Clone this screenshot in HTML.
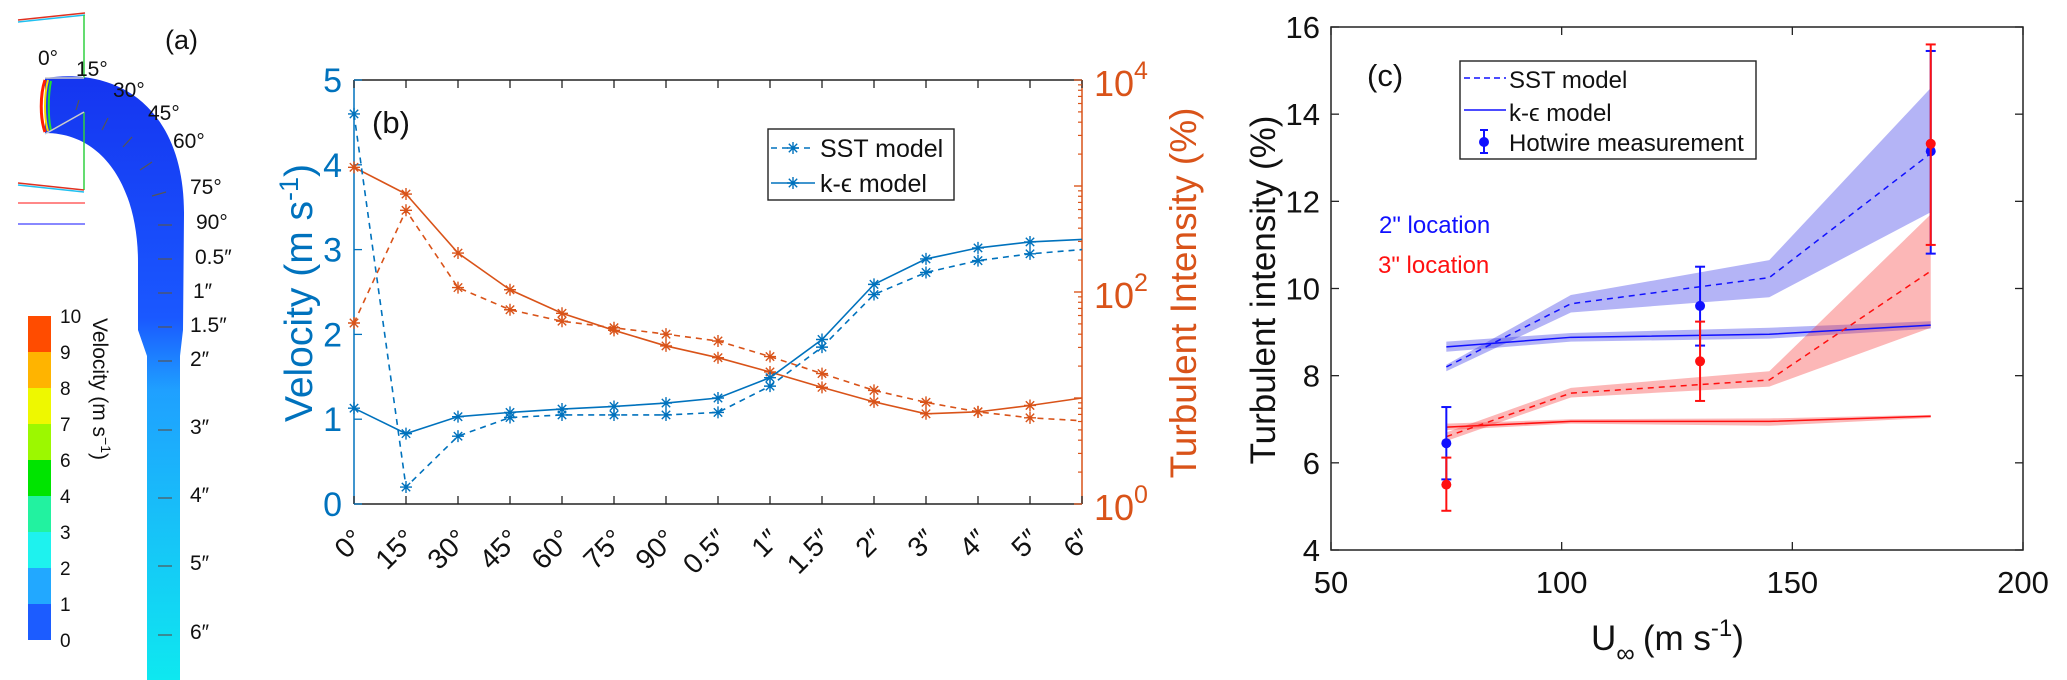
<!DOCTYPE html>
<html><head><meta charset="utf-8"><style>
html,body{margin:0;padding:0;background:#fff;}
svg{display:block;font-family:"Liberation Sans",Arial,sans-serif;}
</style></head><body>
<svg id="fig" width="2067" height="680" viewBox="0 0 2067 680" xmlns="http://www.w3.org/2000/svg">
<defs>
<linearGradient id="pipeGrad" x1="0" y1="0" x2="0" y2="1">
<stop offset="0" stop-color="#1535f0"/><stop offset="0.4" stop-color="#1a58ff"/>
<stop offset="0.52" stop-color="#1fa0ff"/><stop offset="1" stop-color="#0ee8f0"/>
</linearGradient>
</defs>
<g id="panelA">
<path d="M45,78 C125,66 185,115 184,215 L183,330 L180,356 L180,680 L147,680 L147,356 L138,330 L138,262 C138,190 105,133 45,133 Z" fill="url(#pipeGrad)"/>
<path d="M45,80 C40,95 40,118 45,132" stroke="#ff2000" stroke-width="3" fill="none"/>
<path d="M48,80 C44,95 44,118 48,131" stroke="#f0e000" stroke-width="2" fill="none"/>
<path d="M51,81 C48,95 48,118 51,130" stroke="#20e030" stroke-width="2" fill="none"/>
<g stroke-width="1.5" fill="none">
<path d="M18,20 L85,13" stroke="#e03020"/><path d="M18,22 L85,15" stroke="#20c0f0"/>
<path d="M84,15 L84,78" stroke="#30d040"/><path d="M84,112 L84,190" stroke="#30d040"/>
<path d="M45,78 L84,78" stroke="#ccc"/><path d="M45,134 L84,112" stroke="#ccc"/>
<path d="M18,183 L84,190" stroke="#e03020"/><path d="M18,185 L84,192" stroke="#20c0f0"/>
<path d="M18,203 L85,203" stroke="#ff6060"/><path d="M18,224 L85,224" stroke="#6060ff"/>
</g>
<g stroke="#555" stroke-width="1.2">
<line x1="76" y1="110" x2="79" y2="100"/><line x1="102" y1="130" x2="108" y2="118"/><line x1="123" y1="147" x2="132" y2="137"/>
<line x1="140" y1="170" x2="152" y2="162"/><line x1="152" y1="196" x2="166" y2="192"/><line x1="158" y1="225" x2="172" y2="225"/>
<line x1="158" y1="259" x2="172" y2="259"/><line x1="158" y1="293" x2="172" y2="293"/><line x1="158" y1="327" x2="172" y2="327"/>
<line x1="158" y1="361" x2="172" y2="361"/><line x1="158" y1="430" x2="172" y2="430"/><line x1="158" y1="498" x2="172" y2="498"/>
<line x1="158" y1="566" x2="172" y2="566"/><line x1="158" y1="635" x2="172" y2="635"/>
</g>
<g font-size="21" fill="#111">
<text x="38" y="65">0°</text><text x="76" y="76">15°</text><text x="113" y="97">30°</text><text x="148" y="120">45°</text>
<text x="173" y="148">60°</text><text x="190" y="194">75°</text><text x="196" y="229">90°</text><text x="195" y="264">0.5″</text>
<text x="193" y="298">1″</text><text x="190" y="332">1.5″</text><text x="190" y="366">2″</text><text x="190" y="434">3″</text>
<text x="190" y="502">4″</text><text x="190" y="570">5″</text><text x="190" y="639">6″</text>
</g>
<text x="165" y="49" font-size="27" fill="#111">(a)</text>
<g id="cbar"></g>
<text transform="translate(93,318) rotate(90)" font-size="21" fill="#111">Velocity (m s<tspan dy="-8" font-size="14">−1</tspan><tspan dy="8">)</tspan></text>
</g>
<g id="panelB"></g>
<g id="panelC"></g>
</svg>
<script>
// Panel (a) colorbar
const cbarLabels = ['0','1','2','3','4','6','7','8','9','10'];
const cbarColors = ['#1c5cff','#22a8ff','#1ef2ee','#22f2a0','#00e400','#9cf800','#eef800','#ffb400','#ff4c00'];
// Panel (b)
const catsB = ['0°','15°','30°','45°','60°','75°','90°','0.5″','1″','1.5″','2″','3″','4″','5″','6″'];
const velK = [1.13,0.83,1.03,1.08,1.12,1.15,1.19,1.25,1.49,1.94,2.59,2.89,3.02,3.09,3.12];
const velS = [4.6,0.2,0.8,1.02,1.05,1.05,1.05,1.08,1.39,1.85,2.47,2.73,2.87,2.95,3.0];
const tiK = [1500,840,233,105,63,43.5,31,24,17.6,12.6,9.2,7.1,7.4,8.5,10];
const tiS = [51,590,110,68,53,46,40,34.5,24.6,17,11.8,9.1,7.4,6.5,6.1];
const velTicks = [0,1,2,3,4,5];
const tiTickExp = [0,2,4];
// Panel (c)
const uModel = [75,102,145,180];
const sst2 = [8.2,9.65,10.25,13.1], sst2Lo = [8.1,9.45,9.8,11.75], sst2Hi = [8.25,9.85,10.65,14.6];
const ke2 = [8.66,8.88,8.95,9.16], ke2Lo = [8.55,8.78,8.85,9.08], ke2Hi = [8.78,8.98,9.1,9.25];
const sst3 = [6.6,7.6,7.9,10.4], sst3Lo = [6.5,7.5,7.75,9.1], sst3Hi = [6.7,7.72,8.1,11.7];
const ke3 = [6.82,6.95,6.95,7.07], ke3Lo = [6.75,6.9,6.85,7.03], ke3Hi = [6.9,7.0,7.02,7.1];
const uMeas = [75,130,180];
const meas2 = [6.45,9.6,13.15], meas2Lo = [5.62,8.69,10.8], meas2Hi = [7.28,10.5,15.45];
const meas3 = [5.5,8.33,13.32], meas3Lo = [4.9,7.42,11.0], meas3Hi = [6.12,9.24,15.6];
const cYTicks = [4,6,8,10,12,14,16];
const cXTicks = [50,100,150,200];

const NS = 'http://www.w3.org/2000/svg';
function mk(parent, tag, attrs, text){
  const e = document.createElementNS(NS, tag);
  for (const k in attrs) e.setAttribute(k, attrs[k]);
  if (text !== undefined) e.textContent = text;
  parent.appendChild(e); return e;
}

// ---- colorbar
const cb = document.getElementById('cbar');
const cbTop = 316, cbBot = 640, cbH = (cbBot - cbTop) / cbarColors.length;
cbarColors.forEach((c, i) => {
  const r = mk(cb, 'rect', {x:28, y:cbBot-(i+1)*cbH, width:23, height:cbH, fill:c});
  
  
});
cbarLabels.forEach((l, i) => {
  const t = mk(cb, 'text', {x:60, y:cbBot - i*cbH + 7, 'font-size':19, fill:'#111'}, l);
  
  
});

// ---- panel b
const B = document.getElementById('panelB');
const bL = 354, bR = 1082, bT = 80, bBt = 504;
const bStep = (bR - bL) / (catsB.length - 1);
const xb = i => bL + i * bStep;
const yv = v => bBt - v * (bBt - bT) / 5;
const yl = t => bBt - Math.log10(t) * (bBt - bT) / 4;
const BLUE = '#0072BD', ORANGE = '#D95319';
let e;
e = mk(B, 'line', {x1:bL, y1:bT, x2:bR, y2:bT, stroke:'#222', 'stroke-width':1.5});


e = mk(B, 'line', {x1:bL, y1:bBt, x2:bR, y2:bBt, stroke:'#222', 'stroke-width':1.5});


e = mk(B, 'line', {x1:bL, y1:bT, x2:bL, y2:bBt, stroke:BLUE, 'stroke-width':1.5});


e = mk(B, 'line', {x1:bR, y1:bT, x2:bR, y2:bBt, stroke:ORANGE, 'stroke-width':1.5});


catsB.forEach((c, i) => {
  const x = xb(i);
  mk(B, 'line', {x1:x, y1:bBt, x2:x, y2:bBt-8, stroke:'#222', 'stroke-width':1.3});
  mk(B, 'line', {x1:x, y1:bT, x2:x, y2:bT+8, stroke:'#222', 'stroke-width':1.3});
  const t = mk(B, 'text', {x:x+11, y:541, 'font-size':28, fill:'#111', 'text-anchor':'end', transform:`rotate(-45 ${x+11} 541)`}, c);
  
  
});
velTicks.forEach(v => {
  mk(B, 'line', {x1:bL, y1:yv(v), x2:bL+8, y2:yv(v), stroke:BLUE, 'stroke-width':1.3});
  const t = mk(B, 'text', {x:342, y:yv(v)+12, 'font-size':34, fill:BLUE, 'text-anchor':'end'}, String(v));
  
  
});
for (let d = 0; d < 4; d++) for (let m = 1; m <= 10; m++) {
  const t = Math.pow(10, d) * m; const y = yl(t);
  const len = (m === 1 || m === 10) ? 8 : 4;
  mk(B, 'line', {x1:bR, y1:y, x2:bR-len, y2:y, stroke:ORANGE, 'stroke-width':1.2});
}
tiTickExp.forEach(p => {
  const t = mk(B, 'text', {x:1094, y:yl(Math.pow(10,p))+16, 'font-size':36, fill:ORANGE}, '10');
  
  
  mk(t, 'tspan', {dy:-17, 'font-size':25}, String(p));
});
function starAt(g, x, y, col, s){
  const p = `M${x-s},${y}L${x+s},${y}M${x},${y-s}L${x},${y+s}M${x-s*0.7},${y-s*0.7}L${x+s*0.7},${y+s*0.7}M${x-s*0.7},${y+s*0.7}L${x+s*0.7},${y-s*0.7}`;
  const m = mk(g, 'path', {d:p, stroke:col, 'stroke-width':1.4, fill:'none'});
  
  
}
function seriesB(vals, yf, col, dashed, name){
  const g = mk(B, 'g', {});
  
  
  const d = vals.map((v, i) => (i ? 'L' : 'M') + xb(i) + ',' + yf(v)).join('');
  mk(g, 'path', {d:d, stroke:col, 'stroke-width':1.6, fill:'none', 'stroke-dasharray': dashed ? '6,5' : 'none'});
  vals.forEach((v, i) => { if (i < vals.length - 1) starAt(g, xb(i), yf(v), col, 6); });
}
seriesB(tiS, yl, ORANGE, true, 'ti-sst-series');
seriesB(tiK, yl, ORANGE, false, 'ti-ke-series');
seriesB(velS, yv, BLUE, true, 'velocity-sst-series');
seriesB(velK, yv, BLUE, false, 'velocity-ke-series');
e = mk(B, 'text', {x:372, y:133, 'font-size':31, fill:'#111'}, '(b)');


e = mk(B, 'text', {transform:'translate(312,293) rotate(-90)', 'font-size':39, fill:BLUE, 'text-anchor':'middle'}, 'Velocity (m s');


mk(e, 'tspan', {dy:-14, 'font-size':27}, '-1');
mk(e, 'tspan', {dy:14}, ')');
e = mk(B, 'text', {transform:'translate(1196,293) rotate(-90)', 'font-size':37, fill:ORANGE, 'text-anchor':'middle'}, 'Turbulent Intensity (%)');


const lgB = mk(B, 'g', {});


mk(lgB, 'rect', {x:768, y:129, width:186, height:71, fill:'#fff', stroke:'#222', 'stroke-width':1.4});
mk(lgB, 'line', {x1:771, y1:148, x2:815, y2:148, stroke:BLUE, 'stroke-width':1.6, 'stroke-dasharray':'6,5'});
starAt(lgB, 793, 148, BLUE, 6);
mk(lgB, 'line', {x1:771, y1:183, x2:815, y2:183, stroke:BLUE, 'stroke-width':1.6});
starAt(lgB, 793, 183, BLUE, 6);
e = mk(lgB, 'text', {x:820, y:157, 'font-size':25, fill:'#111'}, 'SST model');


e = mk(lgB, 'text', {x:820, y:192, 'font-size':25, fill:'#111'}, 'k-ϵ model');



// ---- panel c
const C = document.getElementById('panelC');
const cL = 1331, cR = 2023, cT = 27, cB = 550;
const xc = u => cL + (u - 50) * (cR - cL) / 150;
const yc = v => cB - (v - 4) * (cB - cT) / 12;
e = mk(C, 'rect', {x:cL, y:cT, width:cR-cL, height:cB-cT, fill:'none', stroke:'#222', 'stroke-width':1.5});


cYTicks.forEach(v => {
  mk(C, 'line', {x1:cL, y1:yc(v), x2:cL+8, y2:yc(v), stroke:'#222', 'stroke-width':1.3});
  mk(C, 'line', {x1:cR, y1:yc(v), x2:cR-8, y2:yc(v), stroke:'#222', 'stroke-width':1.3});
  const t = mk(C, 'text', {x:1320, y:yc(v)+11, 'font-size':31, fill:'#111', 'text-anchor':'end'}, String(v));
  
  
});
cXTicks.forEach(u => {
  mk(C, 'line', {x1:xc(u), y1:cB, x2:xc(u), y2:cB-8, stroke:'#222', 'stroke-width':1.3});
  mk(C, 'line', {x1:xc(u), y1:cT, x2:xc(u), y2:cT+8, stroke:'#222', 'stroke-width':1.3});
  const t = mk(C, 'text', {x:xc(u), y:593, 'font-size':31, fill:'#111', 'text-anchor':'middle'}, String(u));
  
  
});
function band(lo, hi, col, name){
  const d = uModel.map((u, i) => (i ? 'L' : 'M') + xc(u) + ',' + yc(hi[i])).join('') +
    uModel.slice().reverse().map((u, j) => 'L' + xc(u) + ',' + yc(lo[uModel.length-1-j])).join('') + 'Z';
  const p = mk(C, 'path', {d:d, fill:col, stroke:'none'});
  
  
}
function lineC(vals, col, dashed, name){
  const d = vals.map((v, i) => (i ? 'L' : 'M') + xc(uModel[i]) + ',' + yc(v)).join('');
  const p = mk(C, 'path', {d:d, stroke:col, 'stroke-width':1.5, fill:'none', 'stroke-dasharray': dashed ? '6,5' : 'none'});
  
  
}
band(sst2Lo, sst2Hi, 'rgba(40,40,230,0.35)', 'sst-2in-band');
band(ke2Lo, ke2Hi, 'rgba(40,40,230,0.35)', 'ke-2in-band');
band(sst3Lo, sst3Hi, 'rgba(245,50,50,0.35)', 'sst-3in-band');
band(ke3Lo, ke3Hi, 'rgba(245,50,50,0.35)', 'ke-3in-band');
lineC(sst2, '#1010ff', true, 'sst-2in-line');
lineC(ke2, '#1010ff', false, 'ke-2in-line');
lineC(sst3, '#ff1010', true, 'sst-3in-line');
lineC(ke3, '#ff1010', false, 'ke-3in-line');
function meas(vals, lo, hi, col, name){
  const g = mk(C, 'g', {});
  
  
  vals.forEach((v, i) => {
    const x = xc(uMeas[i]);
    mk(g, 'line', {x1:x, y1:yc(lo[i]), x2:x, y2:yc(hi[i]), stroke:col, 'stroke-width':2});
    mk(g, 'line', {x1:x-5, y1:yc(lo[i]), x2:x+5, y2:yc(lo[i]), stroke:col, 'stroke-width':2});
    mk(g, 'line', {x1:x-5, y1:yc(hi[i]), x2:x+5, y2:yc(hi[i]), stroke:col, 'stroke-width':2});
    const c = mk(g, 'circle', {cx:x, cy:yc(v), r:5, fill:col});
    
    
  });
}
meas(meas2, meas2Lo, meas2Hi, '#1010ff', 'hotwire-2in');
meas(meas3, meas3Lo, meas3Hi, '#ff1010', 'hotwire-3in');
e = mk(C, 'text', {x:1367, y:86, 'font-size':31, fill:'#111'}, '(c)');


e = mk(C, 'text', {x:1379, y:233, 'font-size':24, fill:'#1010ff'}, '2" location');


e = mk(C, 'text', {x:1378, y:273, 'font-size':24, fill:'#ff1010'}, '3" location');


e = mk(C, 'text', {transform:'translate(1275,290) rotate(-90)', 'font-size':35, fill:'#111', 'text-anchor':'middle'}, 'Turbulent intensity (%)');


e = mk(C, 'text', {x:1591, y:650, 'font-size':35, fill:'#111'}, 'U');


mk(e, 'tspan', {dy:12, 'font-size':26}, '∞');
mk(e, 'tspan', {dy:-12, dx:8}, '(m s');
mk(e, 'tspan', {dy:-14, 'font-size':24}, '-1');
mk(e, 'tspan', {dy:14}, ')');
const lgC = mk(C, 'g', {});


mk(lgC, 'rect', {x:1460, y:61, width:296, height:98, fill:'#fff', stroke:'#222', 'stroke-width':1.4});
mk(lgC, 'line', {x1:1464, y1:78, x2:1506, y2:78, stroke:'#1010ff', 'stroke-width':1.5, 'stroke-dasharray':'6,4'});
mk(lgC, 'line', {x1:1464, y1:110, x2:1506, y2:110, stroke:'#1010ff', 'stroke-width':1.5});
mk(lgC, 'line', {x1:1484, y1:130, x2:1484, y2:153, stroke:'#1010ff', 'stroke-width':2});
mk(lgC, 'line', {x1:1480, y1:130, x2:1488, y2:130, stroke:'#1010ff', 'stroke-width':2});
mk(lgC, 'line', {x1:1480, y1:153, x2:1488, y2:153, stroke:'#1010ff', 'stroke-width':2});
mk(lgC, 'circle', {cx:1484, cy:142, r:5, fill:'#1010ff'});
e = mk(lgC, 'text', {x:1509, y:88, 'font-size':24, fill:'#111'}, 'SST model');


e = mk(lgC, 'text', {x:1509, y:121, 'font-size':24, fill:'#111'}, 'k-ϵ model');


e = mk(lgC, 'text', {x:1509, y:151, 'font-size':24, fill:'#111'}, 'Hotwire measurement');


</script>
</body></html>
